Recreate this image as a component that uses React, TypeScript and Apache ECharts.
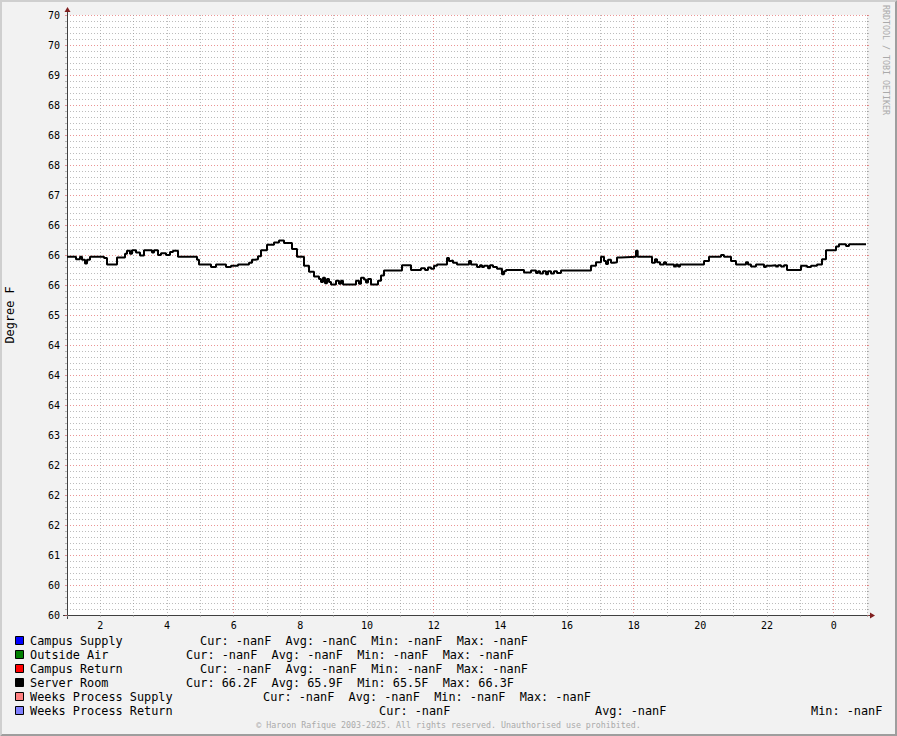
import React, { useEffect, useRef } from "react";
import * as echarts from "echarts";

// ---- data ----
const yMin = 60;
const yMax = 70;
const yStep = 0.5;
const yTickLabels = ["60", "60", "61", "62", "62", "62", "63", "64", "64", "64", "65", "66", "66", "66", "67", "68", "68", "68", "69", "70", "70"];

const xMin = 1;
const xMax = 25;
const xTickHours = [2, 4, 6, 8, 10, 12, 14, 16, 18, 20, 22, 24];
const xTickLabels = ["2", "4", "6", "8", "10", "12", "14", "16", "18", "20", "22", "0"];
const majorGridEveryHours = 6;

const seriesNames = ["Campus Supply", "Outside Air", "Campus Return", "Server Room", "Weeks Process Supply", "Weeks Process Return"];
const seriesColors = ["#0000FF", "#007F00", "#FF0000", "#000000", "#FF8080", "#8080FF"];
const legendStats = [
  ["Cur: -nanF  Avg: -nanC  Min: -nanF  Max: -nanF"],
  ["Cur: -nanF  Avg: -nanF  Min: -nanF  Max: -nanF"],
  ["Cur: -nanF  Avg: -nanF  Min: -nanF  Max: -nanF"],
  ["Cur: 66.2F  Avg: 65.9F  Min: 65.5F  Max: 66.3F"],
  ["Cur: -nanF  Avg: -nanF  Min: -nanF  Max: -nanF"],
  ["Cur: -nanF", "Avg: -nanF", "Min: -nanF"],
];

const serverRoomHours = [
  1.0, 1.27, 1.39, 1.45, 1.54, 1.6, 1.69, 2.11, 2.2, 2.5, 2.74, 2.8, 2.89, 2.95, 3.07, 3.19, 3.31, 3.55, 3.61, 3.73,
  3.82, 3.97, 4.09, 4.18, 4.33, 4.9, 4.96, 5.32, 5.47, 5.77, 5.92, 6.13, 6.46, 6.55, 6.64, 6.73, 6.82, 7.0, 7.21, 7.36,
  7.51, 7.75, 7.9, 8.11, 8.26, 8.41, 8.56, 8.62, 8.68, 8.74, 8.8, 8.86, 8.92, 9.07, 9.16, 9.22, 9.28, 9.67, 9.76, 9.82,
  9.91, 9.97, 10.03, 10.12, 10.33, 10.42, 10.51, 11.05, 11.32, 11.62, 11.74, 11.83, 11.92, 12.01, 12.1, 12.4, 12.46, 12.52, 12.58, 12.7,
  13.06, 13.12, 13.3, 13.39, 13.45, 13.51, 13.63, 13.69, 13.78, 13.9, 14.05, 14.11, 14.17, 14.71, 14.92, 15.07, 15.13, 15.19, 15.28, 15.37,
  15.43, 15.52, 15.61, 15.7, 15.82, 16.72, 16.87, 17.02, 17.11, 17.17, 17.23, 17.32, 17.41, 17.5, 17.62, 18.07, 18.12, 18.55, 18.64, 18.7,
  18.79, 18.91, 18.97, 19.21, 19.27, 19.33, 19.39, 20.11, 20.26, 20.62, 20.71, 20.92, 21.07, 21.37, 21.43, 21.52, 21.67, 21.91, 21.97, 22.12,
  22.27, 22.33, 22.42, 22.51, 22.6, 23.02, 23.2, 23.32, 23.5, 23.65, 23.77, 24.07, 24.16, 24.37, 24.46, 24.97,
];
const serverRoomTemps = [
  65.97, 65.93, 65.97, 65.92, 65.86, 65.92, 65.97, 65.95, 65.84, 65.96, 66.02, 66.07, 66.02, 66.08, 66.04, 65.99, 66.08, 66.04, 66.08, 66.0,
  66.03, 66.0, 66.05, 66.07, 65.97, 65.92, 65.84, 65.8, 65.84, 65.8, 65.82, 65.84, 65.87, 65.92, 65.93, 65.98, 66.08, 66.17, 66.21, 66.24,
  66.2, 66.1, 65.97, 65.82, 65.72, 65.64, 65.6, 65.55, 65.62, 65.53, 65.6, 65.55, 65.51, 65.57, 65.52, 65.57, 65.51, 65.57, 65.52, 65.62,
  65.59, 65.54, 65.6, 65.51, 65.57, 65.66, 65.74, 65.83, 65.75, 65.78, 65.75, 65.79, 65.77, 65.82, 65.84, 65.95, 65.9, 65.91, 65.87, 65.84,
  65.9, 65.84, 65.8, 65.83, 65.8, 65.82, 65.78, 65.83, 65.8, 65.77, 65.68, 65.73, 65.75, 65.71, 65.74, 65.7, 65.73, 65.69, 65.73, 65.68,
  65.73, 65.69, 65.73, 65.7, 65.74, 65.82, 65.88, 65.97, 65.9, 65.85, 65.92, 65.87, 65.88, 65.96, 65.97, 66.07, 65.97, 65.87, 65.93, 65.88,
  65.84, 65.88, 65.84, 65.81, 65.84, 65.81, 65.84, 65.9, 65.97, 66.0, 65.97, 65.9, 65.84, 65.88, 65.84, 65.81, 65.84, 65.8, 65.82, 65.83,
  65.81, 65.83, 65.81, 65.83, 65.75, 65.82, 65.8, 65.82, 65.84, 65.93, 66.08, 66.14, 66.18, 66.15, 66.18, 66.18,
];

const unitLabel = "Degree F";
const watermark = "RRDTOOL / TOBI OETIKER";
const footer = "© Haroon Rafique 2003-2025. All rights reserved. Unauthorised use prohibited.";

// ---- layout / style ----
const W = 897;
const H = 736;
const G_LEFT = 67;
const G_TOP = 15;
const G_W = 800;
const G_H = 600;
const MONO = "'DejaVu Sans Mono', monospace";
const LEG_FONT = `11.85px ${MONO}`;
const GRID_C = "rgba(143,143,143,0.6)";
const MGRID_C = "rgba(222,79,79,0.6)";
const DOTS = [1, 2];
const AXIS_C = "#404040";
const ARROW_C = "#801F1F";
const legendRowY = [641, 655, 669, 683, 697, 711];
const legendStatX = [[200], [186], [200], [186], [263], [379, 595, 811]];

export default function App() {
  const ref = useRef<HTMLDivElement | null>(null);

  useEffect(() => {
    if (!ref.current) return;
    const chart = echarts.init(ref.current, null, { renderer: "svg", width: W, height: H });

    const legendGraphics: any[] = [];
    seriesNames.forEach((name, i) => {
      const y = legendRowY[i];
      legendGraphics.push({
        type: "rect",
        shape: { x: 15.5, y: y - 4.5, width: 8, height: 8 },
        style: { fill: seriesColors[i], stroke: "#000", lineWidth: 1 },
        silent: true,
      });
      legendGraphics.push({
        type: "text",
        x: 30,
        y,
        style: { text: name, font: LEG_FONT, fill: "#000", textVerticalAlign: "middle", textAlign: "left" },
        silent: true,
      });
      legendStats[i].forEach((s, j) => {
        legendGraphics.push({
          type: "text",
          x: legendStatX[i][j],
          y,
          style: { text: s, font: LEG_FONT, fill: "#000", textVerticalAlign: "middle", textAlign: "left" },
          silent: true,
        });
      });
    });

    // colour cycle for vertical grid: ticks start at hour xMin, major every 6h
    const xGridColors: string[] = [];
    for (let k = 0; k < majorGridEveryHours; k++) {
      xGridColors.push(((xMin + k) % majorGridEveryHours === 0) ? MGRID_C : GRID_C);
    }

    const xr = G_LEFT + G_W;
    const yb = G_TOP + G_H;

    const option: any = {
      animation: false,
      backgroundColor: "#F2F2F2",
      textStyle: { fontFamily: MONO },
      grid: {
        left: G_LEFT,
        top: G_TOP,
        width: G_W,
        height: G_H,
        show: true,
        backgroundColor: "#FFFFFF",
        borderWidth: 0,
        containLabel: false,
        outerBoundsMode: "none",
      },
      xAxis: {
        type: "value",
        min: xMin,
        max: xMax,
        interval: 1,
        axisLine: { show: true, onZero: false, lineStyle: { color: AXIS_C, width: 1 } },
        axisTick: { show: true, length: 2, lineStyle: { color: GRID_C } },
        axisLabel: {
          margin: 5,
          fontFamily: MONO,
          fontSize: 10,
          color: "#000",
          formatter: (v: number) => {
            const i = xTickHours.indexOf(Math.round(v));
            return i >= 0 ? xTickLabels[i] : "";
          },
        },
        splitLine: { show: true, lineStyle: { color: xGridColors, type: DOTS, width: 1 } },
      },
      yAxis: [
        {
          type: "value",
          min: yMin,
          max: yMax,
          interval: yStep,
          name: unitLabel,
          nameLocation: "middle",
          nameGap: 51,
          nameTextStyle: { fontFamily: MONO, fontSize: 11.85, color: "#000" },
          axisLine: { show: true, onZero: false, lineStyle: { color: AXIS_C, width: 1 } },
          axisTick: { show: true, length: 2, lineStyle: { color: MGRID_C } },
          minorTick: { show: true, splitNumber: 5, length: 2, lineStyle: { color: GRID_C } },
          axisLabel: {
            margin: 7,
            fontFamily: MONO,
            fontSize: 10,
            color: "#000",
            formatter: (v: number) => yTickLabels[Math.round((v - yMin) / yStep)] ?? "",
          },
          splitLine: { show: true, lineStyle: { color: MGRID_C, type: DOTS, width: 1 } },
          minorSplitLine: { show: true, lineStyle: { color: GRID_C, type: DOTS, width: 1 } },
        },
        {
          type: "value",
          position: "right",
          min: yMin,
          max: yMax,
          interval: yStep,
          axisLine: { show: false },
          axisTick: { show: true, length: 2, lineStyle: { color: MGRID_C } },
          minorTick: { show: true, splitNumber: 5, length: 2, lineStyle: { color: GRID_C } },
          axisLabel: { show: false },
          splitLine: { show: false },
        },
      ],
      series: seriesNames.map((name, i) => ({
        type: "line",
        name,
        step: "end",
        showSymbol: false,
        symbol: "none",
        z: 3,
        lineStyle: { color: seriesColors[i], width: 2 },
        data: name === "Server Room" ? serverRoomHours.map((h, k) => [h, serverRoomTemps[k]]) : [],
      })),
      graphic: [
        // 3D frame
        {
          type: "polygon",
          shape: { points: [[0, 0], [W, 0], [W - 2, 2], [2, 2], [2, H - 2], [0, H]] },
          style: { fill: "#CFCFCF" },
          silent: true,
        },
        {
          type: "polygon",
          shape: { points: [[0, H], [W, H], [W, 0], [W - 2, 2], [W - 2, H - 2], [2, H - 2]] },
          style: { fill: "#9E9E9E" },
          silent: true,
        },
        // axis extensions
        { type: "line", shape: { x1: G_LEFT - 4, y1: yb + 0.5, x2: G_LEFT, y2: yb + 0.5 }, style: { stroke: AXIS_C, lineWidth: 1 }, silent: true },
        { type: "line", shape: { x1: xr, y1: yb + 0.5, x2: xr + 4, y2: yb + 0.5 }, style: { stroke: AXIS_C, lineWidth: 1 }, silent: true },
        { type: "line", shape: { x1: G_LEFT + 0.5, y1: yb, x2: G_LEFT + 0.5, y2: yb + 4 }, style: { stroke: AXIS_C, lineWidth: 1 }, silent: true },
        { type: "line", shape: { x1: G_LEFT + 0.5, y1: G_TOP - 4, x2: G_LEFT + 0.5, y2: G_TOP }, style: { stroke: AXIS_C, lineWidth: 1 }, silent: true },
        // arrows
        {
          type: "polygon",
          shape: { points: [[xr + 3, yb - 2.5], [xr + 3, yb + 3.5], [xr + 8, yb + 0.5]] },
          style: { fill: ARROW_C },
          silent: true,
        },
        {
          type: "polygon",
          shape: { points: [[G_LEFT - 2.5, G_TOP - 3], [G_LEFT + 3.5, G_TOP - 3], [G_LEFT + 0.5, G_TOP - 8]] },
          style: { fill: ARROW_C },
          silent: true,
        },
        // watermark
        {
          type: "text",
          x: 886,
          y: 5,
          rotation: -Math.PI / 2,
          style: { text: watermark, font: `8.3px ${MONO}`, fill: "#AAAAAA", textAlign: "left", textVerticalAlign: "middle" },
          silent: true,
        },
        // footer
        {
          type: "text",
          x: W / 2,
          y: 725,
          style: { text: footer, font: `8.3px ${MONO}`, fill: "#AAAAAA", textAlign: "center", textVerticalAlign: "middle" },
          silent: true,
        },
        ...legendGraphics,
      ],
    };

    chart.setOption(option);
    return () => {
      chart.dispose();
    };
  }, []);

  return <div ref={ref} style={{ position: "absolute", left: 0, top: 0, width: W, height: H }} />;
}
